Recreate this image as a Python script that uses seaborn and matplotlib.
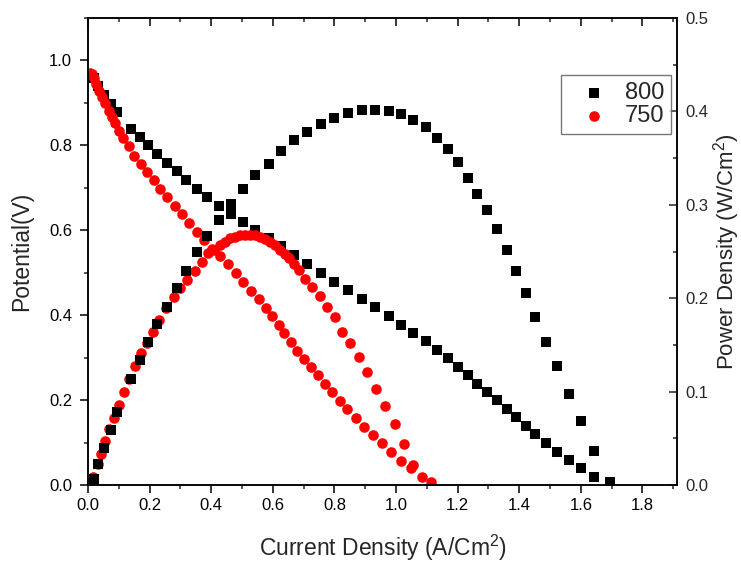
import pandas as pd
import seaborn as sns
import matplotlib.pyplot as plt
from matplotlib.ticker import MultipleLocator

# 800 series (black squares)
i_800 = [0.018, 0.032, 0.052, 0.074, 0.094, 0.14, 0.169, 0.195, 0.225, 0.255,
         0.288, 0.318, 0.353, 0.387, 0.425, 0.463, 0.502, 0.543, 0.586, 0.628,
         0.67, 0.712, 0.755, 0.799, 0.843, 0.89, 0.933, 0.976, 1.015, 1.056,
         1.096, 1.133, 1.168, 1.201, 1.234, 1.264, 1.296, 1.327, 1.359, 1.39,
         1.421, 1.452, 1.486, 1.521, 1.56, 1.599, 1.643, 1.693]
v_800 = [0.958, 0.941, 0.919, 0.898, 0.878, 0.839, 0.82, 0.80, 0.779, 0.758,
         0.739, 0.719, 0.698, 0.678, 0.658, 0.639, 0.619, 0.601, 0.581, 0.562,
         0.541, 0.52, 0.50, 0.479, 0.459, 0.439, 0.419, 0.399, 0.378, 0.358,
         0.339, 0.319, 0.299, 0.278, 0.259, 0.239, 0.22, 0.20, 0.18, 0.159,
         0.139, 0.119, 0.098, 0.078, 0.059, 0.039, 0.02, 0.004]
p_800 = [0.006, 0.022, 0.040, 0.059, 0.078, 0.114, 0.134, 0.153, 0.172, 0.191,
         0.211, 0.229, 0.249, 0.267, 0.284, 0.301, 0.317, 0.332, 0.344, 0.358,
         0.369, 0.378, 0.387, 0.393, 0.398, 0.401, 0.4015, 0.400, 0.397, 0.391,
         0.383, 0.372, 0.360, 0.346, 0.329, 0.312, 0.294, 0.274, 0.252, 0.229,
         0.206, 0.180, 0.153, 0.127, 0.097, 0.068, 0.036, 0.003]

# 750 series (red circles) - voltage
i_750_v = [0.008, 0.013, 0.019, 0.026, 0.037, 0.045, 0.056, 0.067, 0.078, 0.087,
           0.102, 0.115, 0.134, 0.149, 0.173, 0.19, 0.214, 0.234, 0.258, 0.281,
           0.305, 0.329, 0.353, 0.376, 0.403, 0.428, 0.455, 0.481, 0.504, 0.53,
           0.555, 0.578, 0.598, 0.619, 0.636, 0.658, 0.68, 0.701, 0.723, 0.745,
           0.768, 0.793, 0.817, 0.841, 0.869, 0.896, 0.924, 0.955, 0.985, 1.016,
           1.049, 1.083, 1.113]
v_750 = [0.97, 0.968, 0.958, 0.945, 0.929, 0.915, 0.90, 0.882, 0.867, 0.853,
         0.835, 0.818, 0.798, 0.776, 0.757, 0.737, 0.718, 0.698, 0.678, 0.657,
         0.638, 0.617, 0.597, 0.577, 0.556, 0.540, 0.52, 0.499, 0.478, 0.458,
         0.437, 0.417, 0.397, 0.376, 0.357, 0.337, 0.316, 0.296, 0.278, 0.259,
         0.239, 0.218, 0.198, 0.178, 0.157, 0.137, 0.118, 0.098, 0.078, 0.057,
         0.039, 0.020, 0.007]

# 750 series - power density
i_750_p = [0.017, 0.031, 0.042, 0.054, 0.068, 0.083, 0.100, 0.116, 0.132, 0.152,
           0.171, 0.192, 0.212, 0.232, 0.253, 0.279, 0.299, 0.322, 0.347, 0.369,
           0.391, 0.410, 0.429, 0.445, 0.461, 0.477, 0.494, 0.510, 0.526, 0.542,
           0.558, 0.575, 0.591, 0.607, 0.623, 0.640, 0.654, 0.669, 0.686, 0.705,
           0.726, 0.753, 0.775, 0.802, 0.824, 0.851, 0.880, 0.907, 0.935, 0.964,
           0.997, 1.026, 1.056]
p_750 = [0.009, 0.022, 0.033, 0.047, 0.060, 0.072, 0.086, 0.100, 0.114, 0.127,
         0.141, 0.152, 0.164, 0.177, 0.189, 0.201, 0.211, 0.220, 0.229, 0.239,
         0.248, 0.252, 0.257, 0.260, 0.264, 0.266, 0.268, 0.268, 0.268, 0.268,
         0.266, 0.263, 0.260, 0.257, 0.252, 0.247, 0.243, 0.237, 0.230, 0.221,
         0.212, 0.202, 0.191, 0.180, 0.164, 0.152, 0.137, 0.121, 0.103, 0.085,
         0.065, 0.044, 0.021]

sns.set_style("ticks")
plt.rcParams['font.family'] = ['Liberation Sans', 'DejaVu Sans']
plt.rcParams['mathtext.fontset'] = 'custom'
plt.rcParams['mathtext.rm'] = 'Liberation Sans'
plt.rcParams['mathtext.default'] = 'regular'

df_v800 = pd.DataFrame({"current": i_800, "potential": v_800})
df_p800 = pd.DataFrame({"current": i_800, "power": p_800})
df_v750 = pd.DataFrame({"current": i_750_v, "potential": v_750})
df_p750 = pd.DataFrame({"current": i_750_p, "power": p_750})

fig = plt.figure(figsize=(7.41, 5.62), dpi=100)
ax = fig.add_axes([88/741, 1-485/562, 589/741, 467/562])
ax2 = ax.twinx()

sns.scatterplot(data=df_v800, x="current", y="potential", ax=ax, marker="s",
                color="black", s=58, linewidth=0, label="800")
sns.scatterplot(data=df_v750, x="current", y="potential", ax=ax, marker="o",
                color="red", s=58, linewidth=0, label="750")
sns.scatterplot(data=df_p750, x="current", y="power", ax=ax2, marker="o",
                color="red", s=58, linewidth=0, legend=False)
sns.scatterplot(data=df_p800, x="current", y="power", ax=ax2, marker="s",
                color="black", s=58, linewidth=0, legend=False)

ax.set_xlim(0, 1.912)
ax.set_ylim(0, 1.1)
ax2.set_ylim(0, 0.5)

ax.xaxis.set_major_locator(MultipleLocator(0.2))
ax.xaxis.set_minor_locator(MultipleLocator(0.1))
ax.yaxis.set_major_locator(MultipleLocator(0.2))
ax.yaxis.set_minor_locator(MultipleLocator(0.1))
ax2.yaxis.set_major_locator(MultipleLocator(0.1))
ax2.yaxis.set_minor_locator(MultipleLocator(0.05))
ax.xaxis.set_major_formatter(lambda v, p: f"{v:.1f}")
ax.yaxis.set_major_formatter(lambda v, p: f"{v:.1f}")
ax2.yaxis.set_major_formatter(lambda v, p: f"{v:.1f}")

ax.tick_params(axis="both", which="major", direction="out", length=6, width=1.1,
               labelsize=12, colors="black")
ax.tick_params(axis="y", which="major", pad=5.5)
ax.tick_params(axis="both", which="minor", direction="out", length=3, width=1.1)
ax.tick_params(axis="x", which="both", top=True)
ax2.tick_params(axis="y", which="major", direction="in", length=6, width=1.1,
                labelsize=12, pad=6)
ax2.tick_params(axis="y", which="minor", direction="in", length=3, width=1.1)

# top ticks point inward
for t in ax.xaxis.get_major_ticks() + ax.xaxis.get_minor_ticks():
    t.tick2line.set_marker(3)

for a in (ax, ax2):
    for sp in a.spines.values():
        sp.set_linewidth(1.1)
        sp.set_color("black")

ax.set_xlabel("Current Density (A/Cm$^2$)", fontsize=16.5, labelpad=14)
ax.set_ylabel("Potential(V)", fontsize=16.5, labelpad=11)
ax2.set_ylabel("Power Density (W/Cm$^2$)", fontsize=16, labelpad=2)

ax.get_legend().remove()
handles, labels = ax.get_legend_handles_labels()
leg = ax2.legend(handles, labels, loc="upper right", bbox_to_anchor=(0.99, 0.878),
                 borderaxespad=0, fontsize=17, frameon=True, fancybox=False,
                 edgecolor="#555555", handletextpad=0.2, borderpad=0.3,
                 labelspacing=0.05, markerscale=1.0, handlelength=2.2)
leg.get_frame().set_linewidth(1.0)

plt.savefig("out.png", dpi=100)
